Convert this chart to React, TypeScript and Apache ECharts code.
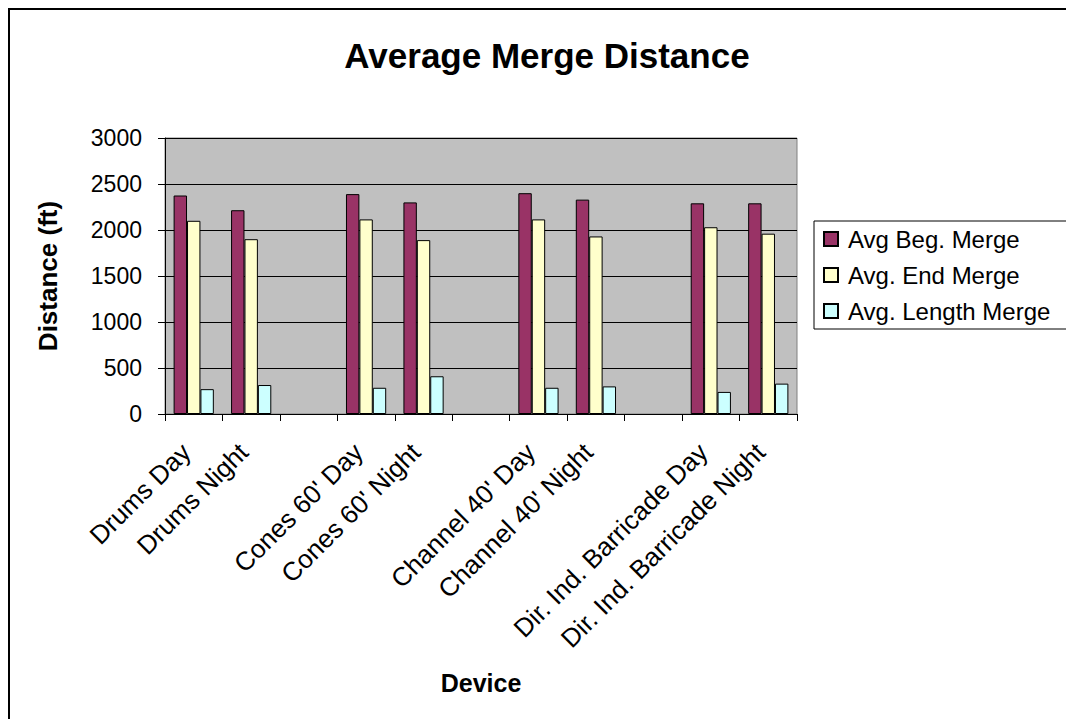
import React, { useEffect, useRef } from "react";
import * as echarts from "echarts";

const categories = [
  "Drums Day",
  "Drums Night",
  "",
  "Cones 60' Day",
  "Cones 60' Night",
  "",
  "Channel 40' Day",
  "Channel 40' Night",
  "",
  "Dir. Ind. Barricade Day",
  "Dir. Ind. Barricade Night",
];

const seriesNames = ["Avg Beg. Merge", "Avg. End Merge", "Avg. Length Merge"];

const begMerge = [2375, 2215, null, 2390, 2300, null, 2400, 2330, null, 2290, 2290];
const endMerge = [2100, 1900, null, 2115, 1890, null, 2115, 1930, null, 2030, 1960];
const lengthMerge = [270, 315, null, 285, 410, null, 285, 300, null, 240, 330];

const colors = ["#993366", "#FFFFCC", "#CCFFFF"];

const FONT = 'Arial, "Liberation Sans", sans-serif';

export default function App() {
  const ref = useRef<HTMLDivElement>(null);

  useEffect(() => {
    if (!ref.current) return;
    const chart = echarts.init(ref.current, undefined, { renderer: "svg" });
    const data = [begMerge, endMerge, lengthMerge];
    chart.setOption({
      animation: false,
      backgroundColor: "#FFFFFF",
      textStyle: { fontFamily: FONT },
      title: {
        text: "Average Merge Distance",
        left: 542,
        top: 33,
        textAlign: "center",
        textStyle: { fontFamily: FONT, fontSize: 35, fontWeight: "bold", color: "#000" },
      },
      legend: {
        orient: "vertical",
        left: 814,
        top: 221,
        padding: [6, 40, 6, 9],
        itemWidth: 14,
        itemHeight: 14,
        itemGap: 12,
        borderColor: "#000",
        borderWidth: 1,
        icon: "rect",
        textStyle: { fontFamily: FONT, fontSize: 24, color: "#000", padding: [0, 0, 0, 5] },
        data: seriesNames,
      },
      grid: {
        left: 165,
        right: 269,
        top: 138,
        bottom: 305,
        show: true,
        backgroundColor: "#C0C0C0",
        borderColor: "#808080",
        borderWidth: 1,
      },
      xAxis: {
        type: "category",
        data: categories,
        name: "Device",
        nameLocation: "middle",
        nameGap: 256,
        nameTextStyle: { fontFamily: FONT, fontSize: 25, fontWeight: "bold", color: "#000" },
        axisLine: { lineStyle: { color: "#000", width: 1 } },
        axisTick: { show: true, length: 7, interval: 0, lineStyle: { color: "#000" } },
        axisLabel: {
          interval: 0,
          rotate: 45,
          margin: 26,
          padding: [0, 11, 0, 0],
          fontFamily: FONT,
          fontSize: 26,
          color: "#000",
        },
      },
      yAxis: {
        type: "value",
        min: 0,
        max: 3000,
        interval: 500,
        name: "Distance (ft)",
        nameLocation: "middle",
        nameGap: 104,
        nameRotate: 90,
        nameTextStyle: { fontFamily: FONT, fontSize: 26, fontWeight: "bold", color: "#000" },
        axisLine: { show: true, lineStyle: { color: "#000", width: 1 } },
        axisTick: { show: true, length: 7, lineStyle: { color: "#000" } },
        axisLabel: {
          margin: 23,
          fontFamily: FONT,
          fontSize: 23,
          color: "#000",
          formatter: (v: number) => String(v),
        },
        splitLine: { show: true, lineStyle: { color: "#000", width: 1 } },
      },
      series: seriesNames.map((name, i) => ({
        name,
        type: "bar",
        data: data[i],
        barGap: "0%",
        barCategoryGap: "30%",
        itemStyle: { color: colors[i], borderColor: "#000", borderWidth: 1 },
      })),
      graphic: [
        {
          type: "line",
          shape: { x1: 9, y1: 8, x2: 9, y2: 719 },
          style: { stroke: "#000", lineWidth: 2 },
        },
        {
          type: "line",
          shape: { x1: 8, y1: 9, x2: 1066, y2: 9 },
          style: { stroke: "#000", lineWidth: 2 },
        },
      ],
    });
    return () => chart.dispose();
  }, []);

  return (
    <div style={{ position: "absolute", left: 0, top: 0, width: 1066, height: 719 }}>
      <div ref={ref} style={{ width: 1066, height: 719 }} />
    </div>
  );
}
